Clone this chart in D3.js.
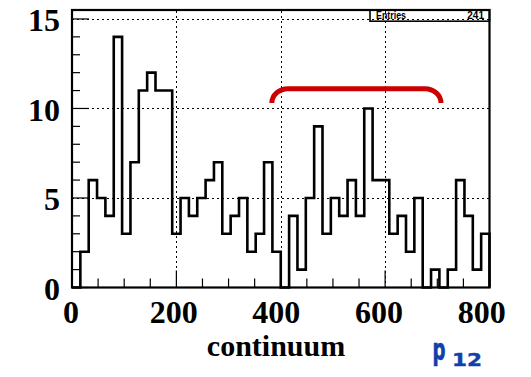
<!DOCTYPE html>
<html><head><meta charset="utf-8">
<script src="https://cdn.jsdelivr.net/npm/d3@7"></script>
<style>body{margin:0;background:#fff}svg{display:block}</style>
</head><body>
<svg id="c" width="531" height="377"></svg>
<script>
// ---- data ----
const binEdgesStart = 0, binWidth = 16;
const counts = [0,2,6,5,4,14,3,7,11,12,11,11,3,5,4,5,6,7,3,4,5,2,3,7,2,0,4,1,5,9,3,5,4,6,4,10,6,6,3,4,2,5,0,1,0,1,6,4,1,3];
const xTicks = [0,200,400,600,800];
const yTicks = [0,5,10,15];
const xTitle = "continuum";
const statLabel = "Entries";
const statValue = "241";
const bracketX = [383, 707];
const bracketY = [10.3, 11.1];
const tagMain = "p", tagSub = "12";

// ---- scales ----
const svg = d3.select("#c");
const x = d3.scaleLinear().domain([0,800]).range([72,489.5]);
const y = d3.scaleLinear().domain([0,15.5]).range([287.5,10]);

// grid
const g = svg.append("g").attr("shape-rendering","crispEdges");
g.selectAll(".gx").data(xTicks.slice(1,-1)).enter().append("line")
  .attr("x1",d=>Math.round(x(d))+0.5).attr("x2",d=>Math.round(x(d))+0.5).attr("y1",y(0)).attr("y2",y(15.5))
  .attr("stroke","#000").attr("stroke-width",1.5).attr("stroke-dasharray","2,3");
g.selectAll(".gy").data(yTicks.slice(1)).enter().append("line")
  .attr("x1",x(0)).attr("x2",x(800)).attr("y1",d=>Math.round(y(d))+0.5).attr("y2",d=>Math.round(y(d))+0.5)
  .attr("stroke","#000").attr("stroke-width",1.5).attr("stroke-dasharray","2,3");

// histogram
const pts = [[binEdgesStart,0]];
counts.forEach((c,i)=>{ const x0=binEdgesStart+i*binWidth; pts.push([x0,c],[x0+binWidth,c]); });
pts.push([binEdgesStart+counts.length*binWidth,0]);
svg.append("path").attr("d", d3.line().x(d=>x(d[0])).y(d=>y(d[1]))(pts))
  .attr("fill","none").attr("stroke","#000").attr("stroke-width",2.6).attr("stroke-linejoin","miter");

// ticks
const xMinor = d3.range(0,801,50);
svg.selectAll(".tx").data(xMinor).enter().append("line")
  .attr("x1",d=>x(d)).attr("x2",d=>x(d)).attr("y1",y(0))
  .attr("y2",d=> d%200===0 ? y(0)-17 : y(0)-9)
  .attr("stroke","#000").attr("stroke-width",1.2);
const yMinor = d3.range(0,16,1);
svg.selectAll(".ty").data(yMinor).enter().append("line")
  .attr("y1",d=>y(d)).attr("y2",d=>y(d)).attr("x1",x(0))
  .attr("x2",d=> d%5===0 ? x(0)+17 : x(0)+8)
  .attr("stroke","#000").attr("stroke-width",1.2);

// frame
svg.append("rect").attr("x",x(0)).attr("y",y(15.5)).attr("width",x(800)-x(0)).attr("height",y(0)-y(15.5))
  .attr("fill","none").attr("stroke","#000").attr("stroke-width",2.2);

// tick labels
svg.selectAll(".lx").data(xTicks).enter().append("text")
  .attr("x",d=>x(d) - 1 - d*0.0085).attr("y",323)
  .attr("text-anchor","middle").attr("font-family","'Liberation Serif',serif").attr("font-weight","bold")
  .attr("font-size",32).text(d=>d);
svg.selectAll(".ly").data(yTicks).enter().append("text")
  .attr("x",60).attr("y",d=>y(d)+12.3)
  .attr("text-anchor","end").attr("font-family","'Liberation Serif',serif").attr("font-weight","bold")
  .attr("font-size",32).text(d=>d);

// axis title
svg.append("text").attr("x",276).attr("y",356).attr("text-anchor","middle")
  .attr("font-family","'Liberation Serif',serif").attr("font-weight","bold").attr("font-size",30).text(xTitle);

// stats box
svg.append("rect").attr("x",370).attr("y",y(15.5)).attr("width",x(800)-370).attr("height",11.2)
  .attr("fill","none").attr("stroke","#000").attr("stroke-width",1.6);
svg.append("text").attr("x",376).attr("y",18.8).attr("font-family","'Liberation Sans',sans-serif")
  .attr("font-weight","bold").attr("font-size",10.5).attr("textLength",30).attr("lengthAdjust","spacingAndGlyphs").text(statLabel);
svg.append("text").attr("x",484).attr("y",18.8).attr("text-anchor","end").attr("font-family","'Liberation Sans',sans-serif")
  .attr("font-weight","bold").attr("font-size",10).text(statValue);

// red bracket
const bx0=x(bracketX[0]), bx1=x(bracketX[1]), yb=y(bracketY[0]), yt=y(bracketY[1]);
const ry=yb-yt, rx=16;
svg.append("path")
  .attr("d",`M${bx0},${yb} A${rx},${ry} 0 0 1 ${bx0+rx},${yt} L${bx1-rx},${yt} A${rx},${ry} 0 0 1 ${bx1},${yb}`)
  .attr("fill","none").attr("stroke","#cc0000").attr("stroke-width",5);

// p12 label
svg.append("text").attr("x",432.5).attr("y",360).attr("fill","#1040a8").attr("stroke","#1040a8").attr("stroke-width",0.7)
  .attr("font-family","'DejaVu Sans',sans-serif").attr("font-weight","bold")
  .attr("font-size",30).attr("textLength",13).attr("lengthAdjust","spacingAndGlyphs").text(tagMain);
svg.append("text").attr("x",452).attr("y",365.5).attr("fill","#1040a8").attr("stroke","#1040a8").attr("stroke-width",0.4)
  .attr("font-family","'DejaVu Sans',sans-serif").attr("font-weight","bold")
  .attr("font-size",17.5).attr("textLength",30).attr("lengthAdjust","spacingAndGlyphs").text(tagSub);
</script>
</body></html>
